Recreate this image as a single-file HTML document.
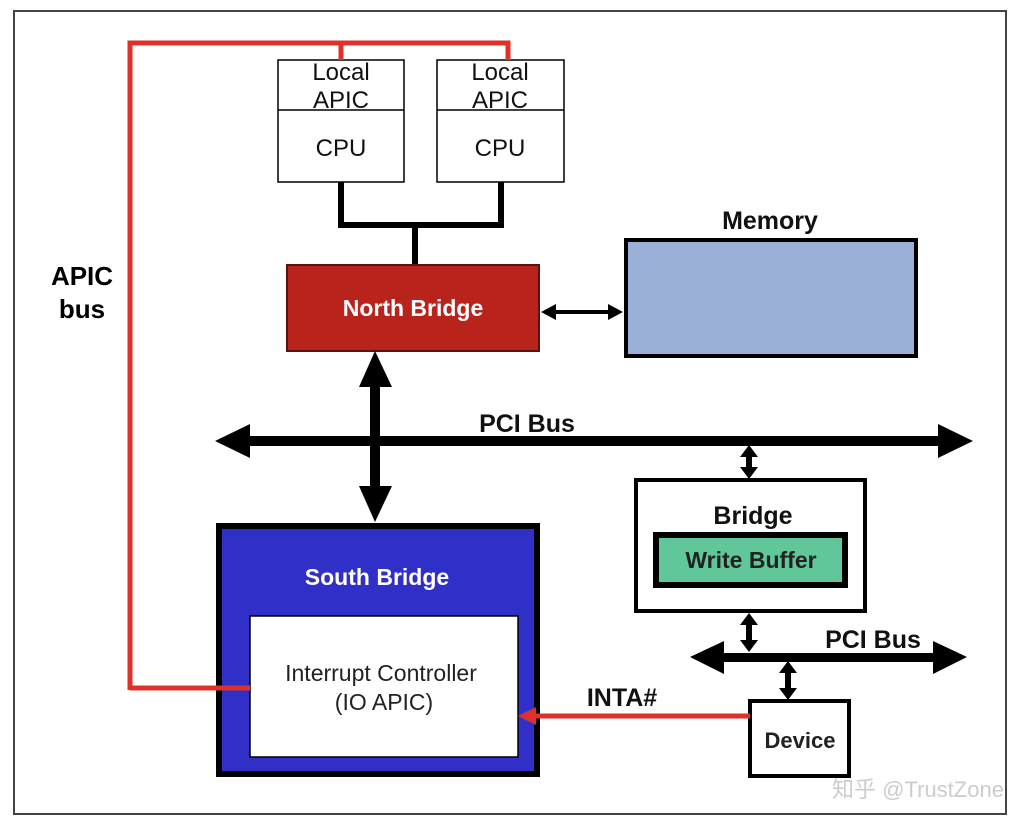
<!DOCTYPE html>
<html><head><meta charset="utf-8"><style>
html,body{margin:0;padding:0;background:#fff;}
svg{display:block;}
text{font-family:"Liberation Sans",sans-serif;}
</style></head><body>
<svg width="1016" height="828" viewBox="0 0 1016 828" xmlns="http://www.w3.org/2000/svg">
<rect x="0" y="0" width="1016" height="828" fill="#fff"/>
<rect x="14" y="11" width="992" height="803" fill="#fff" stroke="#444" stroke-width="2"/>

<text x="82" y="285" font-size="26" font-weight="bold" text-anchor="middle">APIC</text>
<text x="82" y="318" font-size="26" font-weight="bold" text-anchor="middle">bus</text>

<!-- CPU boxes -->
<g fill="#fff" stroke="#000" stroke-width="1.5">
<rect x="278" y="60" width="126" height="122"/>
<line x1="278" y1="110" x2="404" y2="110"/>
<rect x="437" y="60" width="127" height="122"/>
<line x1="437" y1="110" x2="564" y2="110"/>
</g>
<g font-size="24" text-anchor="middle" fill="#111">
<text x="341" y="80">Local</text><text x="341" y="108">APIC</text>
<text x="341" y="156">CPU</text>
<text x="500" y="80">Local</text><text x="500" y="108">APIC</text>
<text x="500" y="156">CPU</text>
</g>
<g stroke="#000" stroke-width="6" fill="none">
<polyline points="341,182 341,225 501,225 501,182"/>
<line x1="415" y1="225" x2="415" y2="264"/>
</g>

<!-- North Bridge -->
<rect x="287" y="265" width="252" height="86" fill="#b8231c" stroke="#5a1410" stroke-width="2"/>
<text x="413" y="316" font-size="23" font-weight="bold" fill="#fff" text-anchor="middle">North Bridge</text>

<!-- Memory -->
<rect x="626" y="240" width="290" height="116" fill="#9bb0d8" stroke="#000" stroke-width="4"/>
<text x="770" y="229" font-size="25" font-weight="bold" text-anchor="middle" fill="#111">Memory</text>
<line x1="552" y1="312" x2="612" y2="312" stroke="#000" stroke-width="4"/>
<polygon points="541,312 556,304 556,320"/>
<polygon points="623,312 608,304 608,320"/>

<!-- Vertical NB-SB arrow -->
<rect x="370" y="380" width="10" height="110"/>
<polygon points="375,351 359,387 392,387"/>
<polygon points="375,522 359,486 392,486"/>

<!-- PCI bus -->
<rect x="245" y="436" width="700" height="10"/>
<polygon points="215,441 250,424 250,458"/>
<polygon points="973,441 938,424 938,458"/>
<text x="527" y="432" font-size="25" font-weight="bold" text-anchor="middle" fill="#111">PCI Bus</text>

<!-- small arrows -->
<rect x="746" y="452" width="6" height="20"/>
<polygon points="749,445 740,457 758,457"/><polygon points="749,479 740,467 758,467"/>
<rect x="746" y="620" width="6" height="26"/>
<polygon points="749,613 740,625 758,625"/><polygon points="749,652 740,640 758,640"/>
<rect x="785" y="668" width="6" height="26"/>
<polygon points="788,661 779,673 797,673"/><polygon points="788,700 779,688 797,688"/>

<!-- Bridge -->
<rect x="636" y="480" width="229" height="131" fill="#fff" stroke="#000" stroke-width="4"/>
<text x="753" y="524" font-size="25" font-weight="bold" text-anchor="middle" fill="#111">Bridge</text>
<rect x="656" y="535" width="189" height="50" fill="#5fc79a" stroke="#000" stroke-width="6"/>
<text x="751" y="568" font-size="23" font-weight="bold" text-anchor="middle" fill="#222">Write Buffer</text>

<!-- lower PCI bus -->
<rect x="715" y="653" width="225" height="9"/>
<polygon points="690,657 724,641 724,674"/>
<polygon points="967,657 933,641 933,674"/>
<text x="873" y="648" font-size="25" font-weight="bold" text-anchor="middle" fill="#111">PCI Bus</text>

<!-- Device -->
<rect x="750" y="701" width="99" height="75" fill="#fff" stroke="#000" stroke-width="4"/>
<text x="800" y="748" font-size="22" font-weight="bold" text-anchor="middle" fill="#222">Device</text>
<text x="622" y="706" font-size="25" font-weight="bold" text-anchor="middle" fill="#111">INTA#</text>

<!-- South Bridge -->
<rect x="219" y="526" width="318" height="248" fill="#3030c8" stroke="#000" stroke-width="6"/>
<text x="377" y="585" font-size="23" font-weight="bold" fill="#fff" text-anchor="middle">South Bridge</text>
<rect x="250" y="616" width="268" height="141" fill="#fff" stroke="#000" stroke-width="1.5"/>
<text x="381" y="681" font-size="23" text-anchor="middle" fill="#222">Interrupt Controller</text>
<text x="384" y="710" font-size="23" text-anchor="middle" fill="#222">(IO APIC)</text>

<!-- APIC bus red (on top) -->
<g stroke="#e0302a" stroke-width="5" fill="none">
<polyline points="130,690 130,43 508,43 508,60"/>
<line x1="341" y1="43" x2="341" y2="60"/>
<line x1="130" y1="688" x2="250" y2="688"/>
<line x1="750" y1="716" x2="532" y2="716"/>
</g>
<polygon points="518,716 536,707 536,725" fill="#e0302a"/>

<text x="918" y="797" font-size="22" text-anchor="middle" fill="#ccc" font-family="Liberation Sans, Noto Sans CJK SC, sans-serif">知乎 @TrustZone</text>
</svg>
</body></html>
